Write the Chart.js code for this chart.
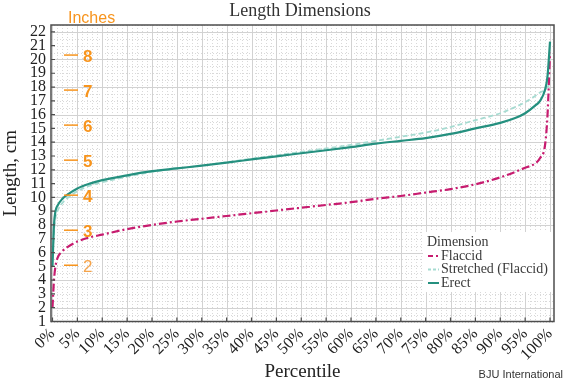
<!DOCTYPE html>
<html>
<head>
<meta charset="utf-8">
<script src="https://cdn.jsdelivr.net/npm/chart.js@4"></script>
<style>
  html, body { margin: 0; padding: 0; background: #fff; }
  #grafico { display: block; }
</style>
</head>
<body>
<canvas id="grafico" width="570" height="384"></canvas>
<script>
const percentiles = [0, 0.3, 0.6, 1, 2, 3, 5, 7.5, 10, 15, 20, 25, 30, 35, 40, 45, 50,
    55, 60, 65, 70, 75, 80, 85, 90, 93, 95, 97, 98, 99, 99.5, 100];

// lengths in cm
const flaccid = [2.0, 4.0, 5.0, 5.6, 6.1, 6.4, 6.8, 7.1, 7.3, 7.7, 8.0, 8.25, 8.45, 8.65, 8.85, 9.05, 9.25,
    9.45, 9.65, 9.9, 10.1, 10.35, 10.6, 10.95, 11.45, 11.85, 12.15, 12.45, 12.85, 13.8, 16.0, 20.5];
const stretched = [5.5, 7.5, 8.5, 9.0, 9.6, 9.95, 10.45, 10.85, 11.1, 11.5, 11.85, 12.1, 12.3, 12.55, 12.8, 13.05, 13.3,
    13.55, 13.8, 14.1, 14.4, 14.7, 15.1, 15.6, 16.1, 16.55, 16.9, 17.35, 17.6, 17.8, 18.0, 18.2];
const erect = [5.0, 8.0, 9.0, 9.4, 9.9, 10.2, 10.65, 11.0, 11.25, 11.6, 11.9, 12.1, 12.3, 12.52, 12.75, 12.98, 13.2,
    13.42, 13.65, 13.9, 14.1, 14.3, 14.6, 15.0, 15.4, 15.75, 16.1, 16.65, 17.0, 17.8, 18.8, 21.3];

const inchMarks = [2, 3, 4, 5, 6, 7, 8];
const legendLabels = ['Flaccid', 'Stretched (Flaccid)', 'Erect'];

const serif = "'Liberation Serif', 'DejaVu Serif', serif";
const sans = "'Liberation Sans', Arial, sans-serif";
const orange = '#f7941d';

const pontos = vals => percentiles.map((p, i) => ({ x: p, y: vals[i] }));

// grid: solid every 5% / 2 cm, dotted every 1% / 0.5 cm
const grade = {
    id: 'grade',
    beforeDatasetsDraw(chart) {
        const { ctx, chartArea: a, scales: { x, y } } = chart;
        ctx.save();
        ctx.lineWidth = 1;
        ctx.strokeStyle = '#d9d9d9';
        ctx.setLineDash([1, 2]);
        ctx.beginPath();
        for (let p = 0; p <= 100; p++) {
            if (p % 5 === 0) continue;
            const px = Math.round(x.getPixelForValue(p)) + 0.5;
            ctx.moveTo(px, a.top); ctx.lineTo(px, a.bottom);
        }
        for (let v = 1; v <= 22.5; v += 0.5) {
            if (v % 2 === 0) continue;
            const py = Math.round(y.getPixelForValue(v)) + 0.5;
            ctx.moveTo(a.left, py); ctx.lineTo(a.right, py);
        }
        ctx.stroke();
        ctx.setLineDash([]);
        ctx.strokeStyle = '#d2d2d2';
        ctx.beginPath();
        for (let p = 0; p <= 100; p += 5) {
            const px = Math.round(x.getPixelForValue(p)) + 0.5;
            ctx.moveTo(px, a.top); ctx.lineTo(px, a.bottom);
        }
        for (let v = 2; v <= 22; v += 2) {
            const py = Math.round(y.getPixelForValue(v)) + 0.5;
            ctx.moveTo(a.left, py); ctx.lineTo(a.right, py);
        }
        ctx.stroke();
        ctx.restore();
    },
    afterDatasetsDraw(chart) {
        const { ctx, chartArea: a, scales: { x, y } } = chart;
        ctx.save();

        // legend box
        ctx.fillStyle = '#fff';
        ctx.fillRect(423, 232, a.right - 423, 60);
        ctx.fillStyle = '#3a3a3a';
        ctx.font = '14px ' + serif;
        ctx.textBaseline = 'middle';
        ctx.fillText('Dimension', 427, 242);
        const ds = chart.data.datasets;
        legendLabels.forEach((lbl, i) => {
            const ly = 256 + i * 13.5;
            ctx.strokeStyle = ds[i].borderColor;
            ctx.lineWidth = 2;
            ctx.setLineDash(i === 1 ? [3, 2] : []);
            ctx.beginPath();
            ctx.moveTo(428, ly); ctx.lineTo(i === 0 ? 433 : 439, ly);
            ctx.stroke();
            if (i === 0) { ctx.beginPath(); ctx.moveTo(436, ly); ctx.lineTo(438, ly); ctx.stroke(); }
            ctx.setLineDash([]);
            ctx.fillStyle = '#3a3a3a';
            ctx.fillText(lbl, 441, ly);
        });

        // frame + inward ticks
        ctx.strokeStyle = '#4d4d4d';
        ctx.lineWidth = 1.5;
        ctx.strokeRect(a.left, a.top, a.right - a.left, a.bottom - a.top);
        ctx.lineWidth = 1.2;
        ctx.beginPath();
        for (let v = 1; v <= 22; v++) {
            const py = y.getPixelForValue(v);
            ctx.moveTo(a.left, py); ctx.lineTo(a.left + 4, py);
        }
        for (let p = 0; p <= 100; p += 5) {
            const px = x.getPixelForValue(p);
            ctx.moveTo(px, a.bottom); ctx.lineTo(px, a.bottom - 4);
        }
        ctx.stroke();
        ctx.restore();
    },
    afterDraw(chart) {
        const { ctx, scales: { y } } = chart;
        ctx.save();
        ctx.fillStyle = '#333';
        ctx.font = '18px ' + serif;
        ctx.textAlign = 'center';
        ctx.textBaseline = 'middle';
        ctx.fillText('Length Dimensions', 300, 11);

        // inch scale overlay
        ctx.textAlign = 'left';
        ctx.fillStyle = orange;
        ctx.font = '16px ' + sans;
        ctx.fillText('Inches', 68, 19);
        inchMarks.forEach(inch => {
            const py = y.getPixelForValue(inch * 2.54);
            ctx.strokeStyle = orange;
            ctx.lineWidth = 1.5;
            ctx.beginPath();
            ctx.moveTo(64, py); ctx.lineTo(78, py);
            ctx.stroke();
            ctx.fillStyle = inch === 2 ? '#f5a34a' : orange;
            ctx.font = (inch === 2 ? '' : 'bold ') + '17px ' + sans;
            ctx.fillText(String(inch), 83, py + 2);
        });

        ctx.fillStyle = '#333';
        ctx.font = '11px ' + sans;
        ctx.textAlign = 'right';
        ctx.fillText('BJU International', 563, 375);
        ctx.restore();
    }
};

new Chart(document.getElementById('grafico'), {
    type: 'line',
    data: {
        datasets: [{
            label: 'Flaccid',
            data: pontos(flaccid),
            borderColor: '#c71c6f',
            borderWidth: 2.2,
            borderDash: [8, 3, 2, 3],
            order: 2
        }, {
            label: 'Stretched (Flaccid)',
            data: pontos(stretched),
            borderColor: '#a6dbd1',
            borderWidth: 1.8,
            borderDash: [5, 3],
            order: 1
        }, {
            label: 'Erect',
            data: pontos(erect),
            borderColor: '#25907f',
            borderWidth: 2.2,
            order: 0
        }]
    },
    options: {
        responsive: false,
        animation: false,
        events: [],
        elements: {
            point: { radius: 0 },
            line: { cubicInterpolationMode: 'monotone', fill: false }
        },
        layout: { padding: { top: 25, right: 16, left: 0, bottom: 0 } },
        plugins: {
            legend: { display: false },
            title: { display: false },
            tooltip: { enabled: false }
        },
        scales: {
            x: {
                type: 'linear',
                min: -0.3,
                max: 100.8,
                grid: { display: false, drawTicks: false },
                border: { display: false },
                ticks: {
                    stepSize: 5,
                    includeBounds: false,
                    autoSkip: false,
                    maxRotation: 45,
                    minRotation: 45,
                    padding: 3,
                    color: '#222',
                    font: { family: serif, size: 16 },
                    callback: v => v + '%'
                },
                title: {
                    display: true,
                    text: 'Percentile',
                    color: '#222',
                    font: { family: serif, size: 19 },
                    padding: { top: 0, bottom: 1 }
                },
                afterFit: s => { s.height = 62.5; }
            },
            y: {
                min: 1,
                max: 22.5,
                grid: { display: false, drawTicks: false },
                border: { display: false },
                ticks: {
                    stepSize: 1,
                    includeBounds: false,
                    autoSkip: false,
                    padding: 5,
                    color: '#222',
                    font: { family: serif, size: 16 }
                },
                title: {
                    display: true,
                    text: 'Length, cm',
                    color: '#222',
                    font: { family: serif, size: 19 },
                    padding: { top: 0, bottom: 0 }
                },
                afterFit: s => { s.width = 51; }
            }
        }
    },
    plugins: [grade]
});
</script>
</body>
</html>
